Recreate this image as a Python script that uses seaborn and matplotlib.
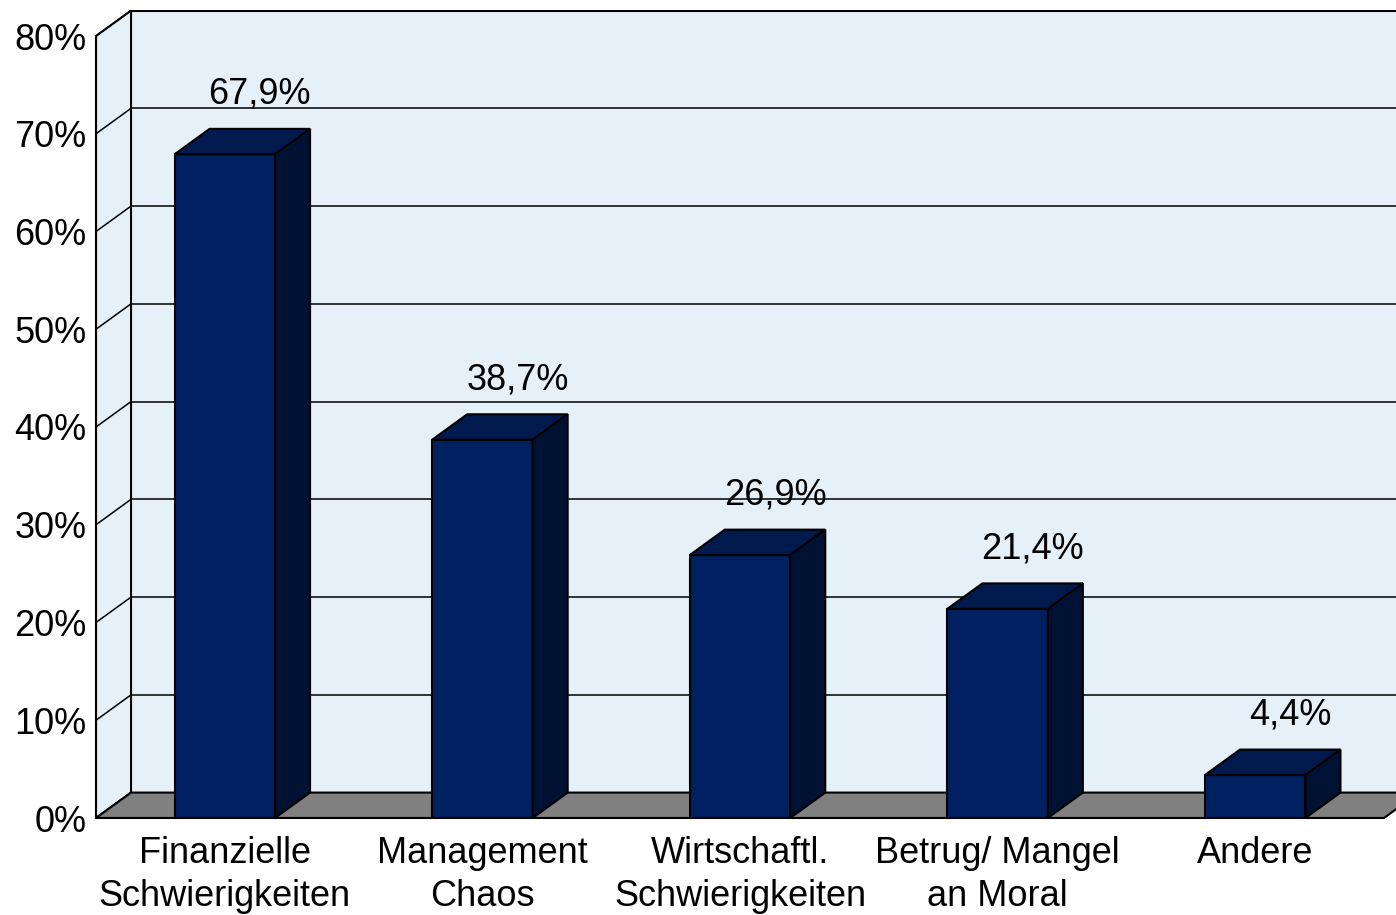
import numpy as np
import matplotlib
matplotlib.use("Agg")
import matplotlib.pyplot as plt
from matplotlib.patches import Polygon
import seaborn as sns

categories = ["Finanzielle\nSchwierigkeiten", "Management\nChaos", "Wirtschaftl.\nSchwierigkeiten",
              "Betrug/ Mangel\nan Moral", "Andere"]
values = [67.9, 38.7, 26.9, 21.4, 4.4]
labels = ["67,9%", "38,7%", "26,9%", "21,4%", "4,4%"]
yticks = [0, 10, 20, 30, 40, 50, 60, 70, 80]

FRONT = "#002060"
TOP = "#001a4d"
SIDE = "#001233"
WALL = "#e6f0f8"
FLOOR = "#808080"
DX, DY = 0.136, 2.6   # 3d depth in data units

sns.set_theme(style="white")
plt.rcParams["font.family"] = ["Liberation Sans", "DejaVu Sans"]

fig = plt.figure(figsize=(13.96, 9.15), dpi=100)
ax = fig.add_axes([96 / 1396, 97 / 915, 1300 / 1396, 808 / 915])
ax.set_facecolor("none")

sns.barplot(x=categories, y=values, color=FRONT, width=0.39, saturation=1,
            edgecolor="black", linewidth=1.5, ax=ax, zorder=5)
bars = list(ax.patches)

x0, x1 = -0.5, len(categories) - 0.5
xmax = x0 + 1300 / 257.6
ymax = 808 / 9.775
ax.set_xlim(x0, xmax)
ax.set_ylim(0, ymax)

# walls and floor
ax.add_patch(Polygon([(x0 + DX, DY), (xmax + 1, DY), (xmax + 1, 80 + DY), (x0 + DX, 80 + DY)],
                     facecolor=WALL, edgecolor="none", zorder=0))
ax.add_patch(Polygon([(x0, 0), (x0 + DX, DY), (x0 + DX, 80 + DY), (x0, 80)],
                     facecolor=WALL, edgecolor="black", linewidth=1.5, zorder=1))
ax.add_patch(Polygon([(x0, 0), (x1, 0), (x1 + DX, DY), (x0 + DX, DY)],
                     facecolor=FLOOR, edgecolor="black", linewidth=1.5, zorder=2))
ax.plot([x0 + DX, xmax + 1], [80 + DY, 80 + DY], color="black", lw=1.5, zorder=1)
for v in yticks[1:-1]:
    ax.plot([x0 + DX, xmax + 1], [v + DY, v + DY], color="black", lw=1.1, zorder=1)
for v in yticks:
    ax.plot([x0, x0 + DX], [v, v + DY], color="black", lw=1.1, zorder=1)

# 3d faces of bars
for p, lab in zip(bars, labels):
    bx, bw, bh = p.get_x(), p.get_width(), p.get_height()
    ax.add_patch(Polygon([(bx, bh), (bx + DX, bh + DY), (bx + bw + DX, bh + DY), (bx + bw, bh)],
                         facecolor=TOP, edgecolor="black", linewidth=1.5, zorder=5))
    ax.add_patch(Polygon([(bx + bw, 0), (bx + bw + DX, DY), (bx + bw + DX, bh + DY), (bx + bw, bh)],
                         facecolor=SIDE, edgecolor="black", linewidth=1.5, zorder=5))
    ax.annotate(lab, (bx + bw / 2 + DX, bh + DY), xytext=(0, 18), textcoords="offset points",
                ha="center", va="baseline", fontsize=26, color="black", zorder=6)

for s in ["top", "right"]:
    ax.spines[s].set_visible(False)
ax.spines["left"].set_bounds(0, 80)
ax.spines["bottom"].set_bounds(x0, x1)
for s in ["left", "bottom"]:
    ax.spines[s].set_color("black")
    ax.spines[s].set_linewidth(1.5)
    ax.spines[s].set_zorder(3)

ax.set_yticks(yticks)
ax.set_yticklabels([f"{v}%" for v in yticks])
ax.set_xticks(range(len(categories)))
ax.set_xticklabels(categories, linespacing=1.3)
ax.set_xticks(np.arange(len(categories)) + 0.5, minor=True)
ax.tick_params(axis="y", direction="in", length=9, width=1.2, color="black", pad=7,
               labelsize=26, labelcolor="black", left=True)
ax.tick_params(axis="x", which="major", length=0, pad=13, labelsize=26, labelcolor="black")
ax.tick_params(axis="x", which="minor", direction="in", length=8, width=1.2, color="black", bottom=True)
ax.set_xlabel("")
ax.set_ylabel("")

fig.savefig("out.png", dpi=100)
